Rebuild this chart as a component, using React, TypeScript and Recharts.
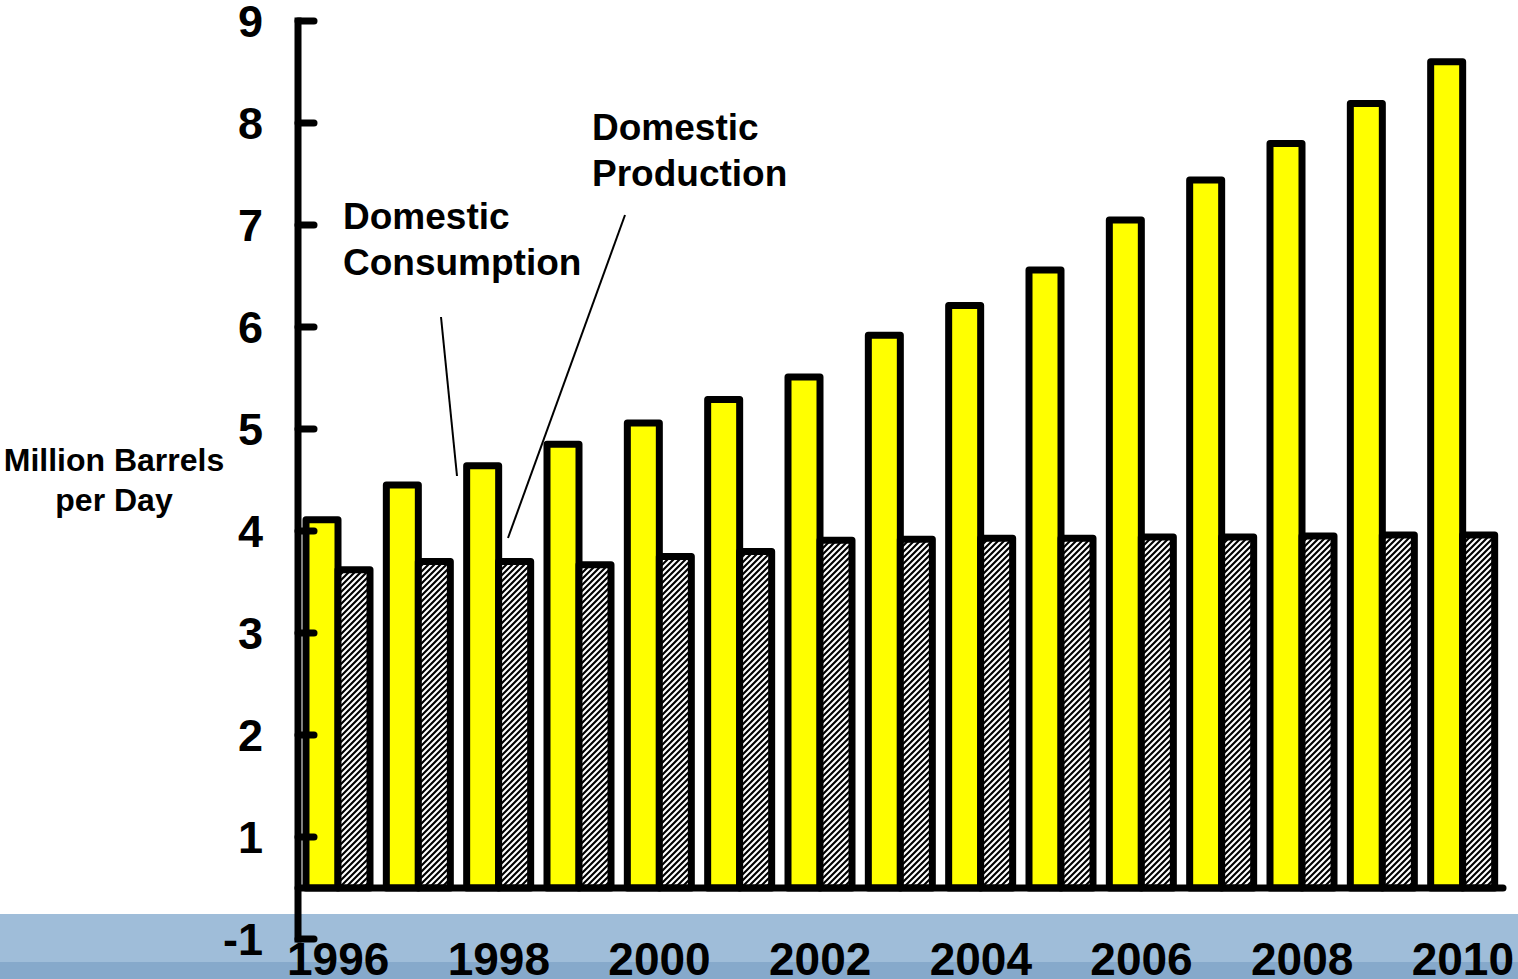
import React from 'react';
import { BarChart, Bar, XAxis, YAxis, ReferenceLine } from 'recharts';

const years = ['1996', '1997', '1998', '1999', '2000', '2001', '2002', '2003', '2004', '2005', '2006', '2007', '2008', '2009', '2010'];
const consumption = [4.11, 4.45, 4.64, 4.85, 5.06, 5.29, 5.51, 5.92, 6.21, 6.56, 7.05, 7.44, 7.8, 8.19, 8.6];
const production = [3.62, 3.7, 3.7, 3.67, 3.75, 3.8, 3.91, 3.92, 3.93, 3.93, 3.94, 3.94, 3.95, 3.96, 3.96];
const yTickValues = [0, 1, 2, 3, 4, 5, 6, 7, 8, 9];
const yTickLabels = ['-1', '1', '2', '3', '4', '5', '6', '7', '8', '9'];
const xLabelYears = ['1996', '1998', '2000', '2002', '2004', '2006', '2008', '2010'];
const BASE = 0.5;

const data = years.map((y, i) => ({
  year: y,
  cons: [BASE, consumption[i]],
  prod: [BASE, production[i]],
}));

const FONT = '"Liberation Sans", Arial, Helvetica, sans-serif';

const YTick = (props: any) => {
  const { x, y, payload } = props;
  const idx = yTickValues.indexOf(payload.value);
  return (
    <g>
      <line x1={x} y1={y} x2={x + 16} y2={y} stroke="#000" strokeWidth={7} strokeLinecap="round" />
      <text x={x - 35} y={y + 16} textAnchor="end" fontSize={45} fontWeight="bold" fill="#000" fontFamily={FONT}>
        {yTickLabels[idx]}
      </text>
    </g>
  );
};

const XTick = (props: any) => {
  const { x, y, payload } = props;
  if (!xLabelYears.includes(payload.value)) return <g />;
  return (
    <text x={x} y={y + 36} textAnchor="middle" fontSize={46} fontWeight="bold" fill="#000" fontFamily={FONT}>
      {payload.value}
    </text>
  );
};

export default function App() {
  return (
    <div style={{ position: 'absolute', left: 0, top: 0, width: 1518, height: 979, overflow: 'hidden', background: '#fff' }}>
      <svg width={0} height={0} style={{ position: 'absolute' }}>
        <defs>
          <pattern id="hatch" patternUnits="userSpaceOnUse" width={6} height={6}>
            <rect width={6} height={6} fill="#000" />
            <path d="M-1,1 L1,-1 M0,6 L6,0 M5,7 L7,5" stroke="#fff" strokeWidth={2.1} />
          </pattern>
        </defs>
      </svg>
      <div style={{ position: 'absolute', left: 0, top: 914, width: 1518, height: 48, background: '#9fbdd9' }} />
      <div style={{ position: 'absolute', left: 0, top: 962, width: 1518, height: 17, background: '#86a9cb' }} />
      <div style={{ position: 'absolute', left: 0, top: 0 }}>
        <BarChart
          width={1518}
          height={979}
          data={data}
          margin={{ top: 21, right: 15, bottom: 0, left: 0 }}
          barGap={0}
          barSize={32}
        >
          <XAxis
            dataKey="year"
            height={40}
            axisLine={false}
            tickLine={false}
            tickSize={0}
            tickMargin={0}
            interval={0}
            tick={<XTick />}
          />
          <YAxis
            type="number"
            width={298}
            domain={[0, 9]}
            ticks={yTickValues}
            allowDataOverflow
            tickSize={0}
            tickMargin={0}
            tickLine={false}
            axisLine={{ stroke: '#000', strokeWidth: 7, strokeLinecap: 'square' }}
            tick={<YTick />}
          />
          <Bar dataKey="cons" fill="#ffff00" stroke="#000" strokeWidth={7} strokeLinejoin="round" isAnimationActive={false} />
          <Bar dataKey="prod" fill="url(#hatch)" stroke="#000" strokeWidth={7} strokeLinejoin="round" isAnimationActive={false} />
          <ReferenceLine y={BASE} stroke="#000" strokeWidth={7} strokeLinecap="round" />
        </BarChart>
      </div>
      <svg width={1518} height={979} style={{ position: 'absolute', left: 0, top: 0, pointerEvents: 'none' }}>
        <g fontFamily={FONT} fontWeight="bold" fill="#000">
          <text x={114} y={471} fontSize={32} textAnchor="middle">Million Barrels</text>
          <text x={114} y={511} fontSize={32} textAnchor="middle">per Day</text>
          <text x={592} y={140} fontSize={37}>Domestic</text>
          <text x={592} y={186} fontSize={37}>Production</text>
          <text x={343} y={229} fontSize={37}>Domestic</text>
          <text x={343} y={275} fontSize={37}>Consumption</text>
        </g>
        <line x1={441} y1={317} x2={457} y2={476} stroke="#000" strokeWidth={2} />
        <line x1={625} y1={215} x2={508} y2={538} stroke="#000" strokeWidth={2} />
      </svg>
    </div>
  );
}
